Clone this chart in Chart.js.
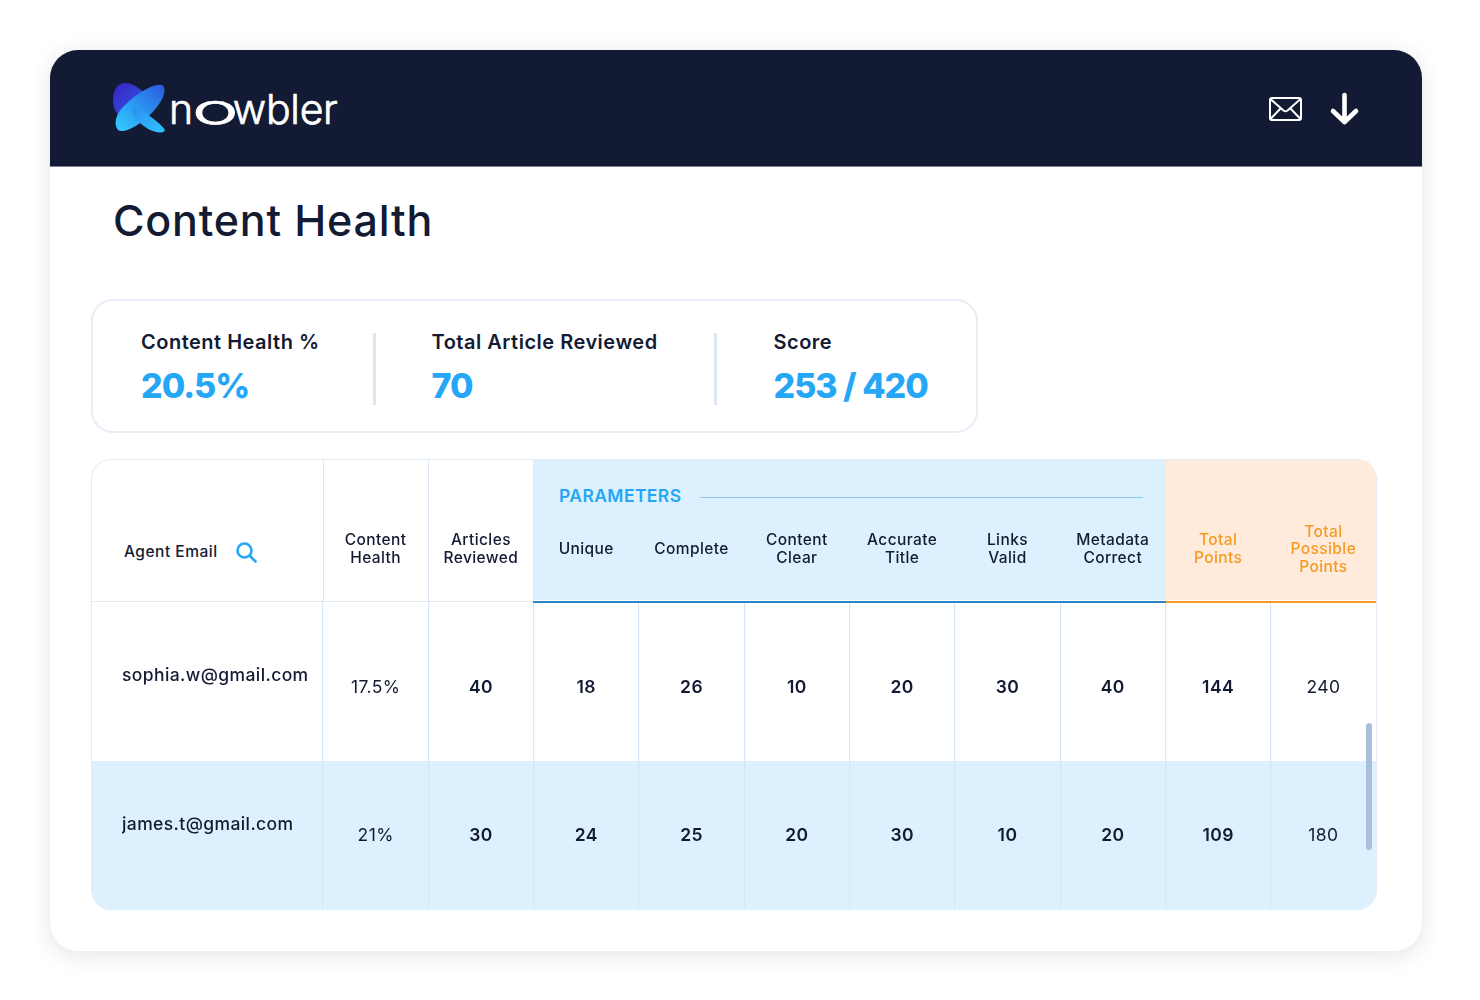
<!DOCTYPE html>
<html><head><meta charset="utf-8">
<script src="https://cdn.jsdelivr.net/npm/chart.js@4"></script>
<style>
html,body{margin:0;padding:0;background:#fff;width:1480px;height:1000px;overflow:hidden;font-family:Inter,sans-serif;color:#131a33}
.abs{position:absolute}
#card{left:50px;top:50px;width:1372px;height:901px;border-radius:28px;background:#fff;box-shadow:0 4px 22px rgba(30,35,70,.12)}
#top{left:50px;top:50px;width:1372px;height:116px;border-radius:28px 28px 0 0;background:#131a33;border-bottom:1px solid #7d8190;box-sizing:content-box}
#word{left:169px;top:84px;height:50px;line-height:50px;font-size:41px;font-weight:300;color:#fff;white-space:nowrap;letter-spacing:-.3px;-webkit-text-stroke:.7px #fff}
#word span{display:inline-block;transform-origin:left center}
#title{left:113px;top:193px;line-height:54px;font-size:43px;font-weight:500;white-space:nowrap;letter-spacing:.8px}
#kpi{left:91px;top:299px;width:887px;height:134px;box-sizing:border-box;border:2px solid #e6edf7;border-radius:22px}
.kl{font-size:20px;font-weight:600;line-height:26px;top:329px;white-space:nowrap;letter-spacing:.5px}
.kv{font-size:34px;font-weight:800;line-height:44px;top:364px;color:#25a7f6;white-space:nowrap;letter-spacing:-1px}
.kd{top:333px;width:3px;height:72px;background:#dce7f4}
#tbl{left:91px;top:459px;width:1286px;height:451px;box-sizing:border-box;border:1.5px solid #e3edf9;border-bottom:none;border-radius:20px;overflow:hidden}
.fill{position:absolute}
canvas{display:block}
</style></head><body>
<div class="abs" id="card"></div>
<div class="abs" id="top"></div>
<svg class="abs" style="left:110px;top:80px" width="60" height="56" viewBox="0 0 60 56">
<defs>
<linearGradient id="g1" x1="0" y1="0" x2="1" y2="1"><stop offset="0" stop-color="#3a22c8"/><stop offset="1" stop-color="#2d5fe0"/></linearGradient>
<linearGradient id="g2" x1="1" y1="0" x2="0" y2="1"><stop offset="0" stop-color="#2a58dc"/><stop offset=".55" stop-color="#2b9cf4"/><stop offset="1" stop-color="#35d0ff"/></linearGradient>
<linearGradient id="g3" x1="0" y1="0" x2="1" y2="1"><stop offset="0" stop-color="#2a8cf0"/><stop offset="1" stop-color="#33c4ff"/></linearGradient>
</defs>
<path d="M3 20C3 10 8 3 15 3C24 3 32 10 38 17L12 38C6 34 3 28 3 20Z" fill="url(#g1)"/>
<path d="M8 50C3 44 6 34 14 26C28 12 44 3 52 5C57 8 54 18 47 27C35 42 15 55 8 50Z" fill="url(#g2)"/>
<path d="M24 26C34 32 50 42 55 50C53 54 46 53 38 49C30 44 24 38 22 32Z" fill="url(#g3)"/>
</svg>
<div class="abs" id="word"><span>n</span><span style="width:41px;margin-left:-1px;transform:scaleX(1.92)">o</span><span>w</span><span>b</span><span>l</span><span>e</span><span>r</span></div>
<svg class="abs" style="left:1264px;top:88px" width="100" height="42" viewBox="0 0 100 42" fill="none" stroke="#fff">
<rect x="6" y="10" width="31" height="22" rx="2" stroke-width="2"/>
<path d="M6.5 11L19.5 22.5Q21.5 24 23.5 22.5L36.5 11M6.5 31L16.5 20.5M36.5 31L26.5 20.5" stroke-width="2"/>
<path d="M80.5 7V33M69 23L80.5 34L92 23" stroke-width="4.6" stroke-linecap="round" stroke-linejoin="round"/>
</svg>
<div class="abs" id="title">Content Health</div>
<div class="abs" id="kpi"></div>
<div class="abs kd" style="left:373px"></div>
<div class="abs kd" style="left:714px"></div>
<div id="kpis"></div>

<div class="abs" id="tbl">
  <div class="fill" style="left:441px;top:-2px;width:633px;height:142px;background:#dcf0fe"></div>
  <div class="fill" style="left:1074px;top:-2px;width:212px;height:142px;background:#feebdc"></div>
  <div class="fill" style="left:-2px;top:301px;width:1290px;height:150px;background:#dcf0fe"></div>
  <div class="fill" style="left:-2px;top:140.5px;width:443px;height:1.5px;background:#dfeaf7"></div>
  <div class="fill" style="left:230.5px;top:0;width:1.5px;height:142px;background:#dfeaf7"></div>
  <div class="fill" style="left:335.5px;top:0;width:1.5px;height:142px;background:#dfeaf7"></div>
</div>
<div class="abs" style="left:124px;top:543px;line-height:18px;font-size:15.5px;font-weight:500;white-space:nowrap;letter-spacing:.5px">Agent Email</div>
<svg class="abs" style="left:234px;top:540px" width="26" height="26" viewBox="0 0 26 26" fill="none" stroke="#25a7f6" stroke-width="2.6" stroke-linecap="round"><circle cx="10.5" cy="10.5" r="7"/><path d="M16 16L21.5 21.5"/></svg>
<div class="abs" style="left:559px;top:486px;line-height:20px;font-size:17.5px;font-weight:600;color:#25a7f6;white-space:nowrap;letter-spacing:.4px">PARAMETERS</div>
<div class="abs" style="left:700px;top:497px;width:443px;height:1px;background:#8cc7ee"></div>

<canvas id="c" class="abs" style="left:91px;top:459px" width="1286" height="451"></canvas>
<div class="abs" style="left:533px;top:601px;width:633px;height:1.5px;background:#2b88c8"></div>
<div class="abs" style="left:1166px;top:601px;width:210px;height:1.5px;background:#f59a23"></div>
<div class="abs" style="left:1366px;top:723px;width:6px;height:127px;border-radius:3px;background:#a8bfde"></div>

<script>
const kpiLabels = ["Content Health %", "Total Article Reviewed", "Score"];
const kpiValues = ["20.5%", "70", "253 / 420"];
const columnLabels = [["Content","Health"],["Articles","Reviewed"],["Unique"],["Complete"],["Content","Clear"],["Accurate","Title"],["Links","Valid"],["Metadata","Correct"],["Total","Points"],["Total","Possible","Points"]];
const agentEmails = ["sophia.w@gmail.com", "james.t@gmail.com"];
const sophiaValues = [17.5, 40, 18, 26, 10, 20, 30, 40, 144, 240];
const jamesValues = [21, 30, 24, 25, 20, 30, 10, 20, 109, 180];

const kx = [141, 431.5, 773.5];
kpiLabels.forEach((t, i) => {
  const a = document.createElement('div'); a.className = 'abs kl'; a.style.left = kx[i] + 'px'; a.textContent = t; document.body.appendChild(a);
  const b = document.createElement('div'); b.className = 'abs kv'; b.style.left = kx[i] + 'px'; b.textContent = kpiValues[i]; document.body.appendChild(b);
});

const cellText = {
  id: 'cellText',
  beforeDraw(chart) { chart.ctx.letterSpacing = '0.4px'; },
  afterDatasetsDraw(chart) {
    const ctx = chart.ctx;
    ctx.save();
    ctx.textAlign = 'center';
    ctx.textBaseline = 'middle';
    ctx.fillStyle = '#131a33';
    chart.data.datasets.forEach((ds, d) => {
      chart.getDatasetMeta(d).data.forEach((pt, i) => {
        const light = i === 0 || i === columnLabels.length - 1;
        ctx.font = (light ? '400' : '600') + ' 17.5px Inter';
        ctx.fillText(i === 0 ? ds.data[i].v + '%' : String(ds.data[i].v), pt.x, pt.y + 1);
      });
    });
    ctx.restore();
  }
};

const rows = [sophiaValues, jamesValues];
new Chart(document.getElementById('c'), {
  type: 'line',
  plugins: [cellText],
  data: {
    labels: columnLabels,
    datasets: rows.map((vals, r) => ({
      label: agentEmails[r],
      showLine: false,
      pointRadius: 0,
      data: vals.map((v, i) => ({ x: i, y: agentEmails[r], v }))
    }))
  },
  options: {
    responsive: false,
    animation: false,
    events: [],
    layout: { autoPadding: false, padding: { left: 31, right: 1, top: 0, bottom: 1 } },
    plugins: { legend: { display: false }, tooltip: { enabled: false } },
    scales: {
      x: {
        type: 'category',
        position: 'top',
        offset: true,
        afterFit: s => { s.height = 153; s.paddingLeft = 0; s.paddingRight = 0; },
        border: { display: false },
        grid: { offset: true, color: c => c.type === 'tick' ? '#d6e6f5' : 'transparent', lineWidth: 1.2, drawTicks: true, tickLength: 11 },
        ticks: {
          autoSkip: false, maxRotation: 0, minRotation: 0, padding: 34, crossAlign: 'center',
          font: { family: 'Inter', size: 15.5, weight: '500', lineHeight: 1.13 },
          color: c => c.index >= 8 ? '#f59a23' : '#131a33'
        }
      },
      y: {
        type: 'category',
        labels: agentEmails,
        offset: true,
        afterFit: s => { s.width = 201; s.paddingTop = 0; s.paddingBottom = 0; },
        border: { display: false },
        grid: { display: false },
        ticks: {
          crossAlign: 'far', padding: 0,
          font: { family: 'Inter', size: 17.5, weight: '500', lineHeight: 1.2 },
          color: '#131a33',
          callback: function (v) { return [this.getLabelForValue(v), '']; }
        }
      }
    }
  }
});
</script>
</body></html>
